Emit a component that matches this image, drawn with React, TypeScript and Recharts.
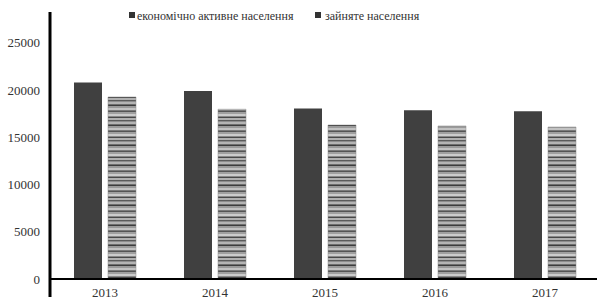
import React from 'react';
import { BarChart, Bar, XAxis, YAxis, ReferenceLine, Legend } from 'recharts';

const years = ['2013', '2014', '2015', '2016', '2017'];
const economicallyActive = [20800, 19900, 18050, 17870, 17770];
const employed = [19280, 17980, 16310, 16210, 16100];
const yTicks = [0, 5000, 10000, 15000, 20000, 25000];
const seriesNames = ['економічно активне населення', 'зайняте населення'];

const data = years.map((y, i) => ({
  year: y,
  active: economicallyActive[i],
  employed: employed[i],
}));

const FONT = 'Liberation Serif, DejaVu Serif';

const stripes = [
  ['#5a5a5a', 1], ['#8c8c8c', 1], ['#b4b4b4', 2], ['#6e6e6e', 1], ['#3c3c3c', 1],
  ['#9a9a9a', 2], ['#c2c2c2', 2], ['#7a7a7a', 1], ['#555555', 1], ['#a0a0a0', 2],
  ['#cccccc', 2], ['#888888', 1], ['#484848', 1], ['#b0b0b0', 2],
] as const;

const XTick = (props: any) => {
  const { x, y, payload } = props;
  return (
    <text x={x} y={y} dy={0} textAnchor="middle" fontSize={13} fontFamily={FONT} fill="#333">
      {payload.value}
    </text>
  );
};

const YTick = (props: any) => {
  const { x, y, payload } = props;
  return (
    <text x={x} y={y} dy={4.5} textAnchor="end" fontSize={13} fontFamily={FONT} fill="#333">
      {payload.value}
    </text>
  );
};

const LegendContent = () => (
  <svg width={300} height={18} style={{ display: 'block' }}>
    <rect x={1} y={4} width={6} height={6} fill="#333" />
    <text x={9} y={11.5} fontSize={12} fontFamily={FONT} fill="#333">{seriesNames[0]}</text>
    <rect x={187} y={4} width={6} height={6} fill="#333" />
    <text x={197} y={11.5} fontSize={12} fontFamily={FONT} fill="#333">{seriesNames[1]}</text>
  </svg>
);

export default function App() {
  let acc = 0;
  const total = stripes.reduce((s, [, h]) => s + h, 0);
  return (
    <div style={{ position: 'absolute', left: 0, top: 0, width: 597, height: 300, background: '#fff' }}>
      <BarChart
        width={597}
        height={300}
        data={data}
        margin={{ top: 12, right: -3, bottom: 1, left: 0 }}
        barSize={28}
        barGap={6}
      >
        <defs>
          <pattern id="stripes" patternUnits="userSpaceOnUse" width={10} height={total}>
            {stripes.map(([c, h], i) => {
              const r = <rect key={i} x={0} y={acc} width={10} height={h} fill={c} />;
              acc += h;
              return r;
            })}
          </pattern>
        </defs>
        <Legend
          layout="horizontal"
          verticalAlign="middle"
          wrapperStyle={{ top: 8, left: 128, width: 'auto' }}
          content={<LegendContent />}
        />
        <XAxis
          dataKey="year"
          height={2}
          axisLine={false}
          tickLine={false}
          tickSize={0}
          tickMargin={0}
          tick={<XTick />}
          interval={0}
        />
        <YAxis
          width={50}
          domain={[-1906, 28280]}
          ticks={yTicks}
          allowDataOverflow
          axisLine={{ stroke: '#000', strokeWidth: 3 }}
          tickLine={false}
          tickSize={6}
          tickMargin={4}
          tick={<YTick />}
        />
        <Bar dataKey="active" fill="#404040" isAnimationActive={false} />
        <Bar dataKey="employed" fill="url(#stripes)" stroke="#8a8a8a" strokeWidth={0.5} isAnimationActive={false} />
        <ReferenceLine y={0} stroke="#000" strokeWidth={2} />
      </BarChart>
    </div>
  );
}
